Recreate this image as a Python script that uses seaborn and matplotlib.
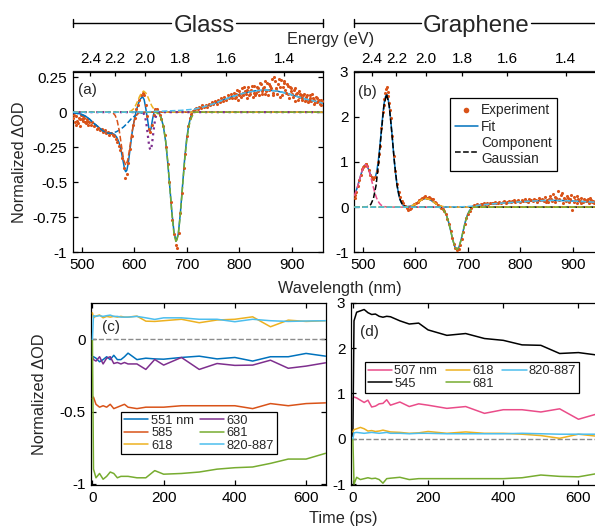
import numpy as np
import matplotlib
matplotlib.use("Agg")
import matplotlib.pyplot as plt
from matplotlib.lines import Line2D
import seaborn as sns

# ---------------- colours ----------------
BLUE, RED, YEL, PUR = "#0072BD", "#D95319", "#EDB120", "#7E2F8E"
GRN, LBL, PINK = "#77AC30", "#4DBEEE", "#EA4C89"

# ---------------- panel (a): glass spectrum ----------------
exp_a_wl = [484, 487, 490, 493, 496, 499, 502, 505, 508, 511,
            514, 517, 520, 523, 526, 529, 532, 535, 538, 541,
            544, 547, 550, 553, 556, 559, 562, 565, 568, 571,
            574, 577, 580, 583, 586, 589, 592, 595, 598, 601,
            604, 607, 610, 613, 616, 619, 622, 625, 628, 631,
            634, 637, 640, 643, 646, 649, 652, 655, 658, 661,
            664, 667, 670, 673, 676, 679, 682, 685, 688, 691,
            694, 697, 700, 703, 706, 709, 712, 715, 718, 721,
            724, 727, 730, 733, 736, 739, 742, 745, 748, 751,
            754, 757, 760, 763, 766, 769, 772, 775, 778, 781,
            784, 787, 790, 793, 796, 799, 802, 805, 808, 811,
            814, 817, 820, 823, 826, 829, 832, 835, 838, 841,
            844, 847, 850, 853, 856, 859, 862, 865, 868, 871,
            874, 877, 880, 883, 886, 889, 892, 895, 898, 901,
            904, 907, 910, 913, 916, 919, 922, 925, 928, 931,
            934, 937, 940, 943, 946, 949, 952, 955, 958,
            485.5, 488.5, 491.5, 494.5, 497.5, 500.5, 503.5, 506.5, 509.5, 512.5,
            791.5, 794.5, 797.5, 800.5, 803.5, 806.5, 809.5, 812.5, 815.5, 818.5,
            821.5, 824.5, 827.5, 830.5, 833.5, 836.5, 839.5, 842.5, 845.5, 848.5,
            851.5, 854.5, 857.5, 860.5, 863.5, 866.5, 869.5, 872.5, 875.5, 878.5,
            881.5, 884.5, 887.5, 890.5, 893.5, 896.5, 899.5, 902.5, 905.5, 908.5,
            911.5, 914.5, 917.5, 920.5, 923.5, 926.5, 929.5, 932.5, 935.5, 938.5,
            941.5, 944.5, 947.5, 950.5, 953.5, 956.5]
exp_a_val = [-0.04, -0.07, -0.03, -0.08, -0.05, -0.02, -0.06, -0.04, -0.08, -0.05,
             -0.07, -0.09, -0.07, -0.10, -0.09, -0.12, -0.11, -0.13, -0.12, -0.14,
             -0.13, -0.15, -0.14, -0.16, -0.15, -0.16, -0.17, -0.19, -0.21, -0.24,
             -0.27, -0.33, -0.40, -0.47, -0.44, -0.36, -0.26, -0.17, -0.09, -0.04,
             0.02, 0.05, 0.09, 0.12, 0.14, 0.12, 0.05, -0.03, -0.12, -0.14,
             -0.09, -0.02, 0.02, 0.02, 0.00, -0.02, -0.05, -0.10, -0.16, -0.25,
             -0.37, -0.50, -0.64, -0.77, -0.87, -0.95, -0.97, -0.86, -0.72, -0.58,
             -0.40, -0.30, -0.17, -0.10, -0.04, -0.01, 0.01, 0.02, 0.03, 0.02,
             0.04, 0.03, 0.05, 0.04, 0.05, 0.04, 0.06, 0.05, 0.07, 0.06,
             0.08, 0.06, 0.09, 0.07, 0.10, 0.08, 0.11, 0.09, 0.12, 0.10,
             0.13, 0.10, 0.14, 0.11, 0.16, 0.12, 0.13, 0.17, 0.12, 0.15,
             0.10, 0.18, 0.13, 0.16, 0.11, 0.19, 0.14, 0.17, 0.12, 0.20,
             0.15, 0.18, 0.13, 0.21, 0.16, 0.19, 0.24, 0.12, 0.22, 0.17,
             0.20, 0.11, 0.23, 0.18, 0.21, 0.14, 0.19, 0.10, 0.17, 0.13,
             0.16, 0.08, 0.14, 0.11, 0.13, 0.09, 0.12, 0.08, 0.11, 0.07,
             0.12, 0.08, 0.10, 0.06, 0.11, 0.07, 0.09, 0.05, 0.08,
             -0.02, -0.09, -0.06, -0.04, -0.10, -0.05, -0.03, -0.07, -0.06, -0.09,
             0.10, 0.13, 0.09, 0.15, 0.11, 0.14, 0.18, 0.13, 0.16, 0.12,
             0.15, 0.19, 0.14, 0.12, 0.18, 0.15, 0.21, 0.13, 0.17, 0.22,
             0.15, 0.12, 0.20, 0.17, 0.14, 0.25, 0.16, 0.13, 0.24, 0.18,
             0.12, 0.22, 0.16, 0.20, 0.13, 0.18, 0.15, 0.11, 0.17, 0.13,
             0.09, 0.15, 0.12, 0.10, 0.13, 0.09, 0.12, 0.08, 0.10, 0.13,
             0.09, 0.07, 0.10, 0.08, 0.06, 0.09]

fit_a_wl = [483, 492, 500, 508, 515, 522, 530, 541, 550, 557, 563, 567, 571, 575,
            579, 582, 584, 586, 589, 592, 596, 600, 604, 608, 612, 616, 619, 622,
            625, 628, 630, 632, 635, 638, 641, 644, 648, 652, 656, 660, 664, 668,
            672, 676, 680, 684, 688, 692, 696, 700, 704, 708, 712, 716, 730, 750,
            770, 790, 810, 830, 850, 870, 890, 910, 930, 959]
fit_a_val = [-0.005, -0.008, -0.015, -0.03, -0.05, -0.076, -0.10, -0.135, -0.148,
             -0.15, -0.16, -0.18, -0.215, -0.27, -0.35, -0.41, -0.425, -0.415,
             -0.36, -0.27, -0.15, -0.06, 0.01, 0.06, 0.095, 0.11, 0.09, 0.03,
             -0.04, -0.115, -0.135, -0.12, -0.05, 0.0, 0.02, 0.015, -0.005,
             -0.045, -0.11, -0.21, -0.36, -0.54, -0.72, -0.86, -0.92, -0.87,
             -0.72, -0.53, -0.34, -0.19, -0.09, -0.03, 0.005, 0.022, 0.035,
             0.058, 0.088, 0.115, 0.137, 0.152, 0.158, 0.152, 0.135, 0.112,
             0.09, 0.065]

g551_a_wl = [483, 495, 505, 515, 522, 530, 541, 550, 558, 566, 573, 580, 588, 595,
             600, 608, 616, 625, 959]
g551_a_val = [-0.004, -0.012, -0.025, -0.05, -0.076, -0.10, -0.135, -0.15, -0.15,
              -0.14, -0.125, -0.105, -0.075, -0.045, -0.03, -0.012, -0.004, 0, 0]
g585_a_wl = [483, 556, 560, 564, 568, 572, 576, 580, 584, 588, 592, 596, 600, 604,
             608, 612, 959]
g585_a_val = [0, 0, -0.007, -0.024, -0.065, -0.14, -0.244, -0.34, -0.38, -0.34,
              -0.244, -0.14, -0.065, -0.024, -0.007, 0, 0]
g618_a_wl = [483, 586, 590, 594, 598, 602, 606, 610, 614, 618, 622, 626, 630, 634,
             638, 642, 646, 650, 959]
g618_a_val = [0, 0, 0.003, 0.008, 0.02, 0.042, 0.073, 0.109, 0.138, 0.15, 0.138,
              0.109, 0.073, 0.042, 0.02, 0.008, 0.003, 0, 0]
g630_a_wl = [483, 615, 617, 619, 621, 623, 625, 627, 629, 631, 633, 635, 637, 639,
             641, 643, 645, 647, 959]
g630_a_val = [0, 0, -0.005, -0.015, -0.036, -0.075, -0.131, -0.196, -0.25, -0.27,
              -0.25, -0.196, -0.131, -0.075, -0.036, -0.015, -0.005, 0, 0]
g681_a_wl = [483, 640, 644, 648, 652, 656, 660, 664, 668, 672, 676, 680, 684, 688,
             692, 696, 700, 704, 708, 712, 713, 959]
g681_a_val = [0, 0, -0.007, -0.019, -0.048, -0.105, -0.205, -0.353, -0.54, -0.73,
              -0.875, -0.93, -0.875, -0.73, -0.54, -0.353, -0.205, -0.105, -0.048,
              -0.019, 0, 0]
g820_a_wl = [483, 580, 620, 660, 690, 710, 716, 730, 750, 770, 790, 810, 830, 850,
             870, 890, 910, 930, 959]
g820_a_val = [0, 0, 0.002, 0.008, 0.013, 0.02, 0.022, 0.035, 0.058, 0.088, 0.115,
              0.137, 0.152, 0.158, 0.152, 0.135, 0.112, 0.09, 0.065]

# ---------------- panel (b): graphene spectrum ----------------
exp_b_wl = [484, 487, 490, 493, 496, 499, 502, 505, 508, 511,
            514, 517, 520, 523, 526, 529, 532, 535, 538, 541,
            544, 547, 550, 553, 556, 559, 562, 565, 568, 571,
            574, 577, 580, 583, 586, 589, 592, 595, 598, 601,
            604, 607, 610, 613, 616, 619, 622, 625, 628, 631,
            634, 637, 640, 643, 646, 649, 652, 655, 658, 661,
            664, 667, 670, 673, 676, 679, 682, 685, 688, 691,
            694, 697, 700, 703, 706, 709, 712, 715, 718, 721,
            724, 727, 730, 733, 736, 739, 742, 745, 748, 751,
            754, 757, 760, 763, 766, 769, 772, 775, 778, 781,
            784, 787, 790, 793, 796, 799, 802, 805, 808, 811,
            814, 817, 820, 823, 826, 829, 832, 835, 838, 841,
            844, 847, 850, 853, 856, 859, 862, 865, 868, 871,
            874, 877, 880, 883, 886, 889, 892, 895, 898, 901,
            904, 907, 910, 913, 916, 919, 922, 925, 928, 931,
            934, 937, 940, 943, 946, 949, 952, 955, 958,
            485.5, 500.5, 506.5, 519.5, 530.5, 539.5, 542.5, 545.5, 548.5, 551.5,
            842.5, 848.5, 854.5, 860.5, 866.5, 872.5, 878.5, 884.5, 890.5, 896.5,
            902.5, 908.5, 914.5, 920.5, 926.5, 932.5, 938.5, 944.5]
exp_b_val = [0.20, 0.34, 0.47, 0.60, 0.72, 0.84, 0.92, 0.96, 0.92, 0.82,
             0.72, 0.66, 0.64, 0.66, 0.79, 1.00, 1.36, 1.74, 2.10, 2.40,
             2.62, 2.55, 2.30, 1.98, 1.58, 1.14, 0.80, 0.52, 0.33, 0.22,
             0.14, 0.08, 0.03, -0.02, -0.06, -0.05, -0.03, 0.03, 0.06, 0.09,
             0.12, 0.15, 0.19, 0.21, 0.22, 0.25, 0.21, 0.23, 0.20, 0.18,
             0.17, 0.12, 0.09, 0.05, 0.03, -0.02, -0.04, -0.09, -0.16, -0.26,
             -0.38, -0.53, -0.68, -0.81, -0.90, -0.96, -0.93, -0.84, -0.70, -0.54,
             -0.38, -0.25, -0.15, -0.08, -0.02, 0.02, 0.04, 0.05, 0.06, 0.05,
             0.07, 0.06, 0.08, 0.07, 0.09, 0.06, 0.10, 0.08, 0.09, 0.11,
             0.08, 0.10, 0.12, 0.09, 0.11, 0.13, 0.10, 0.12, 0.14, 0.11,
             0.13, 0.15, 0.12, 0.14, 0.16, 0.12, 0.15, 0.13, 0.17, 0.14,
             0.12, 0.18, 0.15, 0.13, 0.19, 0.16, 0.12, 0.20, 0.15, 0.18,
             0.13, 0.22, 0.16, 0.12, 0.24, 0.17, 0.28, 0.11, 0.21, 0.35,
             0.16, 0.26, 0.09, 0.20, 0.14, 0.25, 0.12, 0.18, -0.06, 0.22,
             0.15, 0.10, 0.19, 0.14, 0.21, 0.11, 0.16, 0.13, 0.18, 0.10,
             0.15, 0.12, 0.09, 0.14, 0.11, 0.13, 0.08, 0.12, 0.10,
             0.27, 0.88, 0.95, 0.63, 1.18, 2.25, 2.52, 2.66, 2.45, 2.15,
             0.16, 0.11, 0.19, 0.13, 0.23, 0.19, 0.31, 0.17, 0.21, 0.27,
             0.12, 0.24, 0.08, 0.19, 0.15, 0.20, 0.13, 0.16]

fit_b_wl = [483.5, 487, 490, 494, 498, 502, 505, 508, 511, 514, 517, 520, 523, 526,
            529, 532, 535, 538, 541, 544, 545, 547, 550, 553, 556, 559, 562, 565,
            568, 571, 574, 577, 580, 585, 590, 595, 600, 605, 610, 615, 620, 625,
            630, 635, 640, 645, 650, 655, 659, 663, 667, 671, 675, 679, 683, 687,
            691, 695, 699, 703, 707, 711, 720, 740, 760, 780, 800, 820, 840, 860,
            880, 900, 920, 940, 959]
fit_b_val = [0.25, 0.36, 0.46, 0.63, 0.79, 0.905, 0.94, 0.90, 0.83, 0.73, 0.67,
             0.62, 0.64, 0.77, 0.995, 1.32, 1.69, 2.06, 2.35, 2.49, 2.5, 2.46,
             2.25, 1.92, 1.52, 1.11, 0.76, 0.48, 0.28, 0.153, 0.077, 0.036, 0.02,
             0.012, 0.02, 0.04, 0.068, 0.107, 0.147, 0.178, 0.19, 0.178, 0.147,
             0.107, 0.068, 0.034, -0.01, -0.08, -0.177, -0.326, -0.52, -0.72,
             -0.88, -0.94, -0.88, -0.72, -0.52, -0.32, -0.17, -0.075, -0.02,
             0.025, 0.04, 0.065, 0.085, 0.10, 0.118, 0.132, 0.143, 0.148, 0.145,
             0.135, 0.122, 0.11, 0.10]

g507_b_wl = [483.5, 487, 490, 494, 498, 502, 505, 508, 511, 514, 517, 520, 523,
             526, 529, 532, 535, 540, 545, 550, 959]
g507_b_val = [0.25, 0.36, 0.46, 0.63, 0.79, 0.905, 0.94, 0.91, 0.83, 0.71, 0.57,
              0.43, 0.305, 0.20, 0.127, 0.075, 0.04, 0.013, 0.004, 0, 0]
g545_b_wl = [483.5, 505, 510, 515, 520, 525, 530, 535, 540, 545, 550, 555, 560,
             565, 570, 575, 580, 585, 959]
g545_b_val = [0, 0, 0.016, 0.06, 0.19, 0.48, 0.99, 1.65, 2.25, 2.5, 2.25, 1.65,
              0.99, 0.48, 0.19, 0.06, 0.016, 0, 0]
g618_b_wl = [483.5, 575, 580, 585, 590, 595, 600, 605, 610, 615, 620, 625, 630,
             635, 640, 645, 650, 655, 660, 665, 959]
g618_b_val = [0, 0, 0.003, 0.008, 0.019, 0.039, 0.068, 0.107, 0.147, 0.178, 0.19,
              0.178, 0.147, 0.107, 0.068, 0.039, 0.019, 0.008, 0.003, 0, 0]
g681_b_wl = [483.5, 643, 647, 651, 655, 659, 663, 667, 671, 675, 679, 683, 687,
             691, 695, 699, 703, 707, 710, 711, 959]
g681_b_val = [0, 0, -0.014, -0.037, -0.087, -0.18, -0.326, -0.52, -0.72, -0.88,
              -0.94, -0.88, -0.72, -0.52, -0.326, -0.18, -0.087, -0.037, -0.015, 0, 0]
g820_b_wl = [483.5, 640, 660, 690, 700, 711, 720, 740, 760, 780, 800, 820, 840,
             860, 880, 900, 920, 940, 959]
g820_b_val = [0, 0, 0.002, 0.008, 0.013, 0.025, 0.04, 0.065, 0.085, 0.10, 0.118,
              0.132, 0.143, 0.148, 0.145, 0.135, 0.122, 0.11, 0.10]

# ---------------- panel (c): glass kinetics ----------------
t_c = [0, 3, 10, 20, 30, 40, 50, 60, 70, 80, 90, 100, 125, 150, 175, 200, 250, 300,
       350, 400, 450, 500, 550, 600, 655]
c_551 = [-0.12, -0.12, -0.13, -0.155, -0.14, -0.12, -0.14, -0.11, -0.14, -0.14,
         -0.12, -0.095, -0.14, -0.13, -0.135, -0.137, -0.125, -0.116, -0.135,
         -0.125, -0.15, -0.12, -0.12, -0.097, -0.116]
c_585 = [-0.41, -0.40, -0.45, -0.47, -0.46, -0.47, -0.45, -0.48, -0.47, -0.46,
         -0.45, -0.47, -0.48, -0.47, -0.47, -0.47, -0.46, -0.46, -0.46, -0.46,
         -0.48, -0.445, -0.46, -0.445, -0.44]
c_618 = [0.185, 0.15, 0.162, 0.17, 0.15, 0.16, 0.155, 0.16, 0.155, 0.16, 0.155,
         0.155, 0.162, 0.127, 0.125, 0.13, 0.14, 0.116, 0.135, 0.14, 0.157,
         0.088, 0.134, 0.125, 0.13]
c_630 = [-0.12, -0.14, -0.15, -0.12, -0.17, -0.13, -0.12, -0.167, -0.16, -0.17,
         -0.16, -0.17, -0.17, -0.208, -0.139, -0.178, -0.125, -0.208, -0.167,
         -0.18, -0.178, -0.144, -0.20, -0.185, -0.162]
c_681 = [0.0, -0.90, -0.96, -0.93, -0.97, -0.95, -0.92, -0.93, -0.96, -0.95,
         -0.95, -0.95, -0.96, -0.96, -0.91, -0.935, -0.93, -0.92, -0.90, -0.89,
         -0.885, -0.86, -0.83, -0.83, -0.79]
c_820 = [0.0, 0.165, 0.16, 0.165, 0.16, 0.165, 0.169, 0.16, 0.16, 0.155, 0.155,
         0.155, 0.16, 0.15, 0.139, 0.15, 0.15, 0.14, 0.14, 0.123, 0.14, 0.13,
         0.125, 0.128, 0.13]

# ---------------- panel (d): graphene kinetics ----------------
t_d = [0, 3, 10, 20, 30, 40, 50, 60, 70, 80, 90, 100, 125, 150, 175, 200, 250, 300,
       350, 400, 450, 500, 550, 600, 655]
d_507 = [0.88, 0.92, 0.90, 0.85, 0.80, 0.85, 0.70, 0.72, 0.77, 0.78, 0.86, 0.74,
         0.81, 0.71, 0.77, 0.74, 0.67, 0.71, 0.56, 0.64, 0.64, 0.59, 0.66, 0.43,
         0.56]
d_545 = [0.05, 2.60, 2.79, 2.82, 2.85, 2.78, 2.74, 2.75, 2.70, 2.68, 2.70, 2.69,
         2.60, 2.53, 2.55, 2.40, 2.28, 2.32, 2.21, 2.17, 2.07, 2.06, 1.88, 1.90,
         1.84]
d_618 = [0.15, 0.20, 0.22, 0.25, 0.22, 0.17, 0.18, 0.16, 0.17, 0.19, 0.17, 0.15,
         0.14, 0.12, 0.13, 0.16, 0.12, 0.15, 0.12, 0.12, 0.10, 0.07, 0.01, 0.10,
         0.05]
d_681 = [0.0, -1.0, -0.85, -0.90, -0.88, -0.86, -0.88, -0.87, -0.90, -0.98,
         -0.88, -0.87, -0.85, -0.90, -0.88, -0.88, -0.88, -0.88, -0.88, -0.88,
         -0.86, -0.80, -0.83, -0.84, -0.76]
d_820 = [0.0, 0.13, 0.14, 0.13, 0.12, 0.13, 0.14, 0.13, 0.12, 0.13, 0.14, 0.12,
         0.12, 0.11, 0.12, 0.12, 0.11, 0.11, 0.11, 0.11, 0.12, 0.11, 0.10, 0.10,
         0.10]

energy_ticks = [2.4, 2.2, 2.0, 1.8, 1.6, 1.4]

# ---------------- style ----------------
sns.set_style("ticks")
plt.rcParams["font.family"] = ["Liberation Sans", "DejaVu Sans"]
plt.rcParams["axes.unicode_minus"] = False
plt.rcParams["axes.linewidth"] = 0.9

W, H = 595.0, 527.0
fig = plt.figure(figsize=(W / 100, H / 100), dpi=100)


def rect(l, t, r, b):
    return [l / W, 1 - b / H, (r - l) / W, (b - t) / H]


def fx(x):
    return x / W


def fy(y):
    return 1 - y / H


TICK = dict(direction="in", length=3.6, width=0.9, labelsize=11, pad=4,
            colors="k")
LW = 1.1

ax_a = fig.add_axes(rect(72.7, 71.5, 322.7, 252.3))
ax_b = fig.add_axes(rect(354, 71.5, 604, 252.3))
ax_c = fig.add_axes(rect(91, 302.7, 326, 485))
ax_d = fig.add_axes(rect(351, 302.7, 601, 485))


def line(ax, x, y, color, ls="-", z=3, label=None, lw=LW):
    sns.lineplot(x=x, y=y, ax=ax, color=color, linestyle=ls, lw=lw, sort=False,
                 estimator=None, zorder=z, label=label, legend=False)


def energy_axis(ax):
    def inv(v):
        v = np.asarray(v, dtype=float)
        with np.errstate(divide="ignore", invalid="ignore"):
            return 1240.0 / v
    sec = ax.secondary_xaxis("top", functions=(inv, inv))
    sec.set_xticks(energy_ticks)
    sec.set_xticklabels([f"{e:.1f}" for e in energy_ticks])
    sec.tick_params(**TICK)
    sec.spines["top"].set_linewidth(0.9)
    return sec


LEG = dict(borderaxespad=0, frameon=True, fancybox=False, framealpha=1,
           edgecolor="k")

# ---- (a) ----
line(ax_a, fit_a_wl, fit_a_val, BLUE, "-", z=2)
sns.scatterplot(x=exp_a_wl, y=exp_a_val, ax=ax_a, color=RED, s=5, linewidth=0,
                zorder=3, legend=False)
line(ax_a, g551_a_wl, g551_a_val, BLUE, "--", z=4)
line(ax_a, g585_a_wl, g585_a_val, RED, "--", z=4)
line(ax_a, g618_a_wl, g618_a_val, YEL, "--", z=4)
line(ax_a, g630_a_wl, g630_a_val, PUR, ":", z=4, lw=1.6)
line(ax_a, g681_a_wl, g681_a_val, GRN, "--", z=4)
line(ax_a, g820_a_wl, g820_a_val, LBL, "--", z=4)
ax_a.set_xlim(483, 959)
ax_a.set_ylim(-1, 0.29)
ax_a.set_xticks([500, 600, 700, 800, 900])
ax_a.set_yticks([-1, -0.75, -0.5, -0.25, 0, 0.25])
ax_a.set_yticklabels(["-1", "-0.75", "-0.5", "-0.25", "0", "0.25"])
ax_a.tick_params(**TICK, right=True, top=False)
energy_axis(ax_a)
ax_a.text(0.021, 0.898, "(a)", transform=ax_a.transAxes, fontsize=11,
          ha="left", va="center")

# ---- (b) ----
line(ax_b, fit_b_wl, fit_b_val, BLUE, "-", z=2, label="Fit")
sns.scatterplot(x=exp_b_wl, y=exp_b_val, ax=ax_b, color=RED, s=5, linewidth=0,
                zorder=3, label="Experiment", legend=False)
line(ax_b, g507_b_wl, g507_b_val, PINK, "--", z=4)
line(ax_b, g545_b_wl, g545_b_val, "k", "--", z=4, label="Component\nGaussian")
line(ax_b, g618_b_wl, g618_b_val, YEL, "--", z=4)
line(ax_b, g681_b_wl, g681_b_val, GRN, "--", z=4)
line(ax_b, g820_b_wl, g820_b_val, LBL, "--", z=4)
ax_b.set_xlim(483, 959)
ax_b.set_ylim(-1, 3)
ax_b.set_xticks([500, 600, 700, 800, 900])
ax_b.set_yticks([-1, 0, 1, 2, 3])
ax_b.tick_params(**TICK, right=True, top=False)
energy_axis(ax_b)
ax_b.text(0.016, 0.884, "(b)", transform=ax_b.transAxes, fontsize=11,
          ha="left", va="center")
h, l = ax_b.get_legend_handles_labels()
order = [l.index("Experiment"), l.index("Fit"), l.index("Component\nGaussian")]
leg_b = ax_b.legend([h[i] for i in order], [l[i] for i in order],
                    loc="upper left", bbox_to_anchor=(0.384, 0.853),
                    fontsize=9.8, handlelength=1.7, handletextpad=0.25,
                    labelspacing=0.2, borderpad=0.35, markerscale=1.8, **LEG)
leg_b.get_frame().set_linewidth(0.9)

# ---- (c) ----
ax_c.axhline(0, color="#8c8c8c", ls="--", lw=1.0, zorder=1)
line(ax_c, t_c, c_551, BLUE, label="551 nm")
line(ax_c, t_c, c_585, RED, label="585")
line(ax_c, t_c, c_618, YEL, label="618")
line(ax_c, t_c, c_630, PUR, label="630")
line(ax_c, t_c, c_681, GRN, label="681")
line(ax_c, t_c, c_820, LBL, label="820-887")
ax_c.set_xlim(-4, 656)
ax_c.set_ylim(-1.01, 0.255)
ax_c.set_xticks([0, 200, 400, 600])
ax_c.set_yticks([-1, -0.5, 0])
ax_c.set_yticklabels(["-1", "-0.5", "0"])
ax_c.tick_params(**TICK, right=True, top=True)
ax_c.text(0.046, 0.864, "(c)", transform=ax_c.transAxes, fontsize=11,
          ha="left", va="center")
leg_c = ax_c.legend(loc="upper left", bbox_to_anchor=(0.128, 0.40), ncol=2,
                    fontsize=9.3, handlelength=1.9, handletextpad=0.2,
                    columnspacing=0.45, labelspacing=0.02, borderpad=0.22,
                    **LEG)
leg_c.get_frame().set_linewidth(0.9)

# ---- (d) ----
ax_d.axhline(0, color="#8c8c8c", ls="--", lw=1.0, zorder=1)
line(ax_d, t_d, d_507, PINK, label="507 nm")
line(ax_d, t_d, d_545, "k", label="545")
line(ax_d, t_d, d_618, YEL, label="618")
line(ax_d, t_d, d_681, GRN, label="681")
line(ax_d, t_d, d_820, LBL, label="820-887")
ax_d.set_xlim(-5, 660)
ax_d.set_ylim(-1.02, 3)
ax_d.set_xticks([0, 200, 400, 600])
ax_d.set_yticks([-1, 0, 1, 2, 3])
ax_d.tick_params(**TICK, right=True, top=True)
ax_d.text(0.036, 0.842, "(d)", transform=ax_d.transAxes, fontsize=11,
          ha="left", va="center")
leg_d = ax_d.legend(loc="upper left", bbox_to_anchor=(0.056, 0.672), ncol=3,
                    fontsize=9.3, handlelength=1.9, handletextpad=0.15,
                    columnspacing=0.65, labelspacing=0.02, borderpad=0.22,
                    **LEG)
leg_d.get_frame().set_linewidth(0.9)

for ax in (ax_a, ax_b, ax_c, ax_d):
    ax.set_xlabel("")
    ax.set_ylabel("")
    for s in ax.spines.values():
        s.set_linewidth(0.9)
        s.set_color("k")

# ---------------- figure-level text ----------------
fig.text(fx(330.4), fy(44), "Energy (eV)", ha="center", va="baseline",
         fontsize=11.7)
fig.text(fx(340), fy(292.5), "Wavelength (nm)", ha="center", va="baseline",
         fontsize=11.7)
fig.text(fx(343.5), fy(523), "Time (ps)", ha="center", va="baseline",
         fontsize=11.7)
fig.text(fx(20), fy(162), "Normalized ΔOD", rotation=90, ha="center",
         va="center", fontsize=11.7)
fig.text(fx(40), fy(394), "Normalized ΔOD", rotation=90, ha="center",
         va="center", fontsize=11.7)


def bracket(x0, x1, gap0, gap1, xc, text, y=23.0):
    kw = dict(color="k", lw=1.0, transform=fig.transFigure)
    fig.add_artist(Line2D([fx(x0), fx(gap0)], [fy(y), fy(y)], **kw))
    fig.add_artist(Line2D([fx(gap1), fx(x1)], [fy(y), fy(y)], **kw))
    fig.add_artist(Line2D([fx(x0), fx(x0)], [fy(y - 4), fy(y + 4)], **kw))
    fig.add_artist(Line2D([fx(x1), fx(x1)], [fy(y - 4), fy(y + 4)], **kw))
    fig.text(fx(xc), fy(31.7), text, ha="center", va="baseline", fontsize=17.3)


bracket(73, 322.7, 171.5, 236.5, 204.2, "Glass")
bracket(354.3, 640, 421, 531, 475.9, "Graphene")

fig.savefig("out.png", dpi=100)
